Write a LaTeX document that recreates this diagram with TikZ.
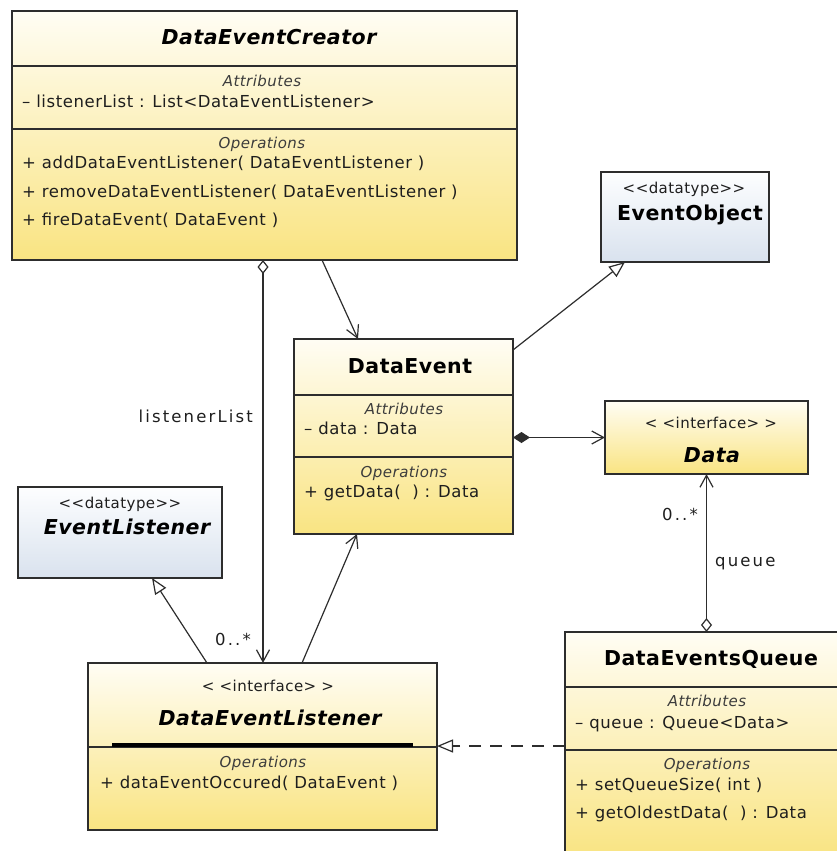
\documentclass[tikz,border=0pt]{standalone}
\usepackage{fontspec}
\setmainfont{DejaVu Sans}[Ligatures=TeXOff]
\usetikzlibrary{arrows.meta}

\definecolor{linec}{RGB}{45,45,45}
\definecolor{ytop}{RGB}{255,253,244}
\definecolor{ybot}{RGB}{249,228,130}
\definecolor{btop}{RGB}{253,254,255}
\definecolor{bbot}{RGB}{217,226,238}
\definecolor{txt}{RGB}{30,30,30}
\definecolor{sect}{RGB}{60,60,60}

\newcommand\fsMember{\fontsize{16.5}{20}\selectfont\addfontfeature{LetterSpace=3.5}}
\newcommand\fsTitle{\fontsize{20.5}{24}\selectfont\bfseries\addfontfeature{LetterSpace=2.5}}
\newcommand\fsSection{\fontsize{15}{18}\selectfont\itshape\addfontfeature{LetterSpace=3}}
\newcommand\fsStereo{\fontsize{15}{18}\selectfont\addfontfeature{LetterSpace=3}}
\newcommand\fsRole{\fontsize{16.5}{20}\selectfont\addfontfeature{LetterSpace=13}}

\tikzset{
  classbox/.style={draw=linec, line width=1.2pt, inner sep=0pt, outer sep=0pt, anchor=north west},
  yellowbox/.style={classbox, top color=ytop, bottom color=ybot},
  bluebox/.style={classbox, top color=btop, bottom color=bbot},
  divider/.style={draw=linec, line width=1.2pt},
  ctitle/.style={anchor=base, inner sep=0pt, text=black, font=\fsTitle},
  ititle/.style={ctitle, font=\fsTitle\itshape},
  section/.style={anchor=base, inner sep=0pt, text=sect, font=\fsSection},
  stereo/.style={anchor=base, inner sep=0pt, text=txt, font=\fsStereo},
  member/.style={anchor=base west, inner sep=0pt, text=txt, font=\fsMember},
  rolelabel/.style={inner sep=0pt, text=txt, font=\fsRole},
  conn/.style={draw=linec, line width=1.2pt},
  openarrow/.style={conn, -{Straight Barb[length=12pt,width=13pt]}},
  inherit/.style={conn, -{Triangle[open,length=16pt,width=13pt,fill=white]}},
  aggr/.style={conn, {Diamond[open,length=14pt,width=11pt,fill=white]}-{Straight Barb[length=12pt,width=13pt]}},
  compo/.style={conn, {Diamond[length=17pt,width=11pt]}-{Straight Barb[length=12pt,width=13pt]}},
}

\begin{document}
\begin{tikzpicture}[x=1pt,y=-1pt]
\useasboundingbox (0,0) rectangle (837,851);
\clip (0,0) rectangle (837,851);

% ---------- class boxes ----------
\node[yellowbox, minimum width=505pt, minimum height=249pt] (creator) at (12,11) {};
\node[bluebox, minimum width=168pt, minimum height=90pt] (eventobject) at (601,172) {};
\node[yellowbox, minimum width=219pt, minimum height=195pt] (dataevent) at (294,339) {};
\node[yellowbox, minimum width=203pt, minimum height=73pt] (data) at (605,401) {};
\node[bluebox, minimum width=204pt, minimum height=91pt] (eventlistener) at (18,487) {};
\node[yellowbox, minimum width=349pt, minimum height=167pt] (dlistener) at (88,663) {};
\node[yellowbox, minimum width=293pt, minimum height=225pt] (queue) at (565,632) {};

% ---------- compartment dividers ----------
\draw[divider] (creator.west |- 0,66) -- (creator.east |- 0,66);
\draw[divider] (creator.west |- 0,129) -- (creator.east |- 0,129);
\draw[divider] (dataevent.west |- 0,395) -- (dataevent.east |- 0,395);
\draw[divider] (dataevent.west |- 0,457) -- (dataevent.east |- 0,457);
\draw[divider] (dlistener.west |- 0,747) -- (dlistener.east |- 0,747);
\draw[line width=4pt, black] (112,745) -- (413,745);
\draw[divider] (queue.west |- 0,687) -- (queue.east |- 0,687);
\draw[divider] (queue.west |- 0,750) -- (queue.east |- 0,750);

% ---------- DataEventCreator ----------
\node[ititle] (creatorTitle) at (269,45) {DataEventCreator};
\node[section] (creatorAttr) at (262,86) {Attributes};
\node[member] (creatorA1) at (22,107) {– listenerList : List<DataEventListener>};
\node[section] (creatorOps) at (262,148) {Operations};
\node[member] (creatorO1) at (22,168) {+ addDataEventListener( DataEventListener )};
\node[member] (creatorO2) at (22,197) {+ removeDataEventListener( DataEventListener )};
\node[member] (creatorO3) at (22,225) {+ fireDataEvent( DataEvent )};

% ---------- EventObject ----------
\node[stereo] (eoStereo) at (684,193) {<<datatype>>};
\node[ctitle] (eoTitle) at (690,220) {EventObject};

% ---------- DataEvent ----------
\node[ctitle] (deTitle) at (410,373) {DataEvent};
\node[section] (deAttr) at (404,414) {Attributes};
\node[member] (deA1) at (304,434) {– data : Data};
\node[section] (deOps) at (404,477) {Operations};
\node[member] (deO1) at (304,497) {+ getData(~~) : Data};

% ---------- Data ----------
\node[stereo] (dataStereo) at (711,428) {< <interface> >};
\node[ititle] (dataTitle) at (712,462) {Data};

% ---------- EventListener ----------
\node[stereo] (elStereo) at (120,508) {<<datatype>>};
\node[ititle] (elTitle) at (127,534) {EventListener};

% ---------- DataEventListener ----------
\node[stereo] (dlStereo) at (268,691) {< <interface> >};
\node[ititle] (dlTitle) at (270,725) {DataEventListener};
\node[section] (dlOps) at (263,767) {Operations};
\node[member] (dlO1) at (100,788) {+ dataEventOccured( DataEvent )};

% ---------- DataEventsQueue ----------
\node[ctitle] (qTitle) at (711,665) {DataEventsQueue};
\node[section] (qAttr) at (707,706) {Attributes};
\node[member] (qA1) at (575,728) {– queue : Queue<Data>};
\node[section] (qOps) at (707,769) {Operations};
\node[member] (qO1) at (575,790) {+ setQueueSize( int )};
\node[member] (qO2) at (575,818) {+ getOldestData(~~) : Data};

% ---------- connectors ----------
\draw[aggr] ([xshift=251pt]creator.south west) -- ([xshift=175pt]dlistener.north west);
\draw[openarrow] ([xshift=310pt]creator.south west) -- ([xshift=64pt]dataevent.north west);
\draw[inherit] ([yshift=-11pt]dataevent.north east) -- ([xshift=24pt]eventobject.south west);
\draw[compo] (dataevent.east |- data.west) -- (data.west);
\draw[aggr] (queue.north -| data.south) -- (data.south);
\draw[inherit] ([xshift=119pt]dlistener.north west) -- ([xshift=134pt]eventlistener.south west);
\draw[openarrow] ([xshift=214pt]dlistener.north west) -- ([xshift=63pt]dataevent.south west);
\draw[inherit, dash pattern=on 12pt off 9pt] ([yshift=-114pt]queue.north west) -- ([yshift=-83pt]dlistener.north east);

% ---------- association labels ----------
\node[rolelabel, anchor=base east] (lblListenerList) at (253,422) {listenerList};
\node[rolelabel, anchor=base west] (lblMultL) at (215,645) {0..*};
\node[rolelabel, anchor=base west] (lblMultQ) at (662,520) {0..*};
\node[rolelabel, anchor=base west] (lblQueue) at (715,566) {queue};
\end{tikzpicture}
\end{document}
